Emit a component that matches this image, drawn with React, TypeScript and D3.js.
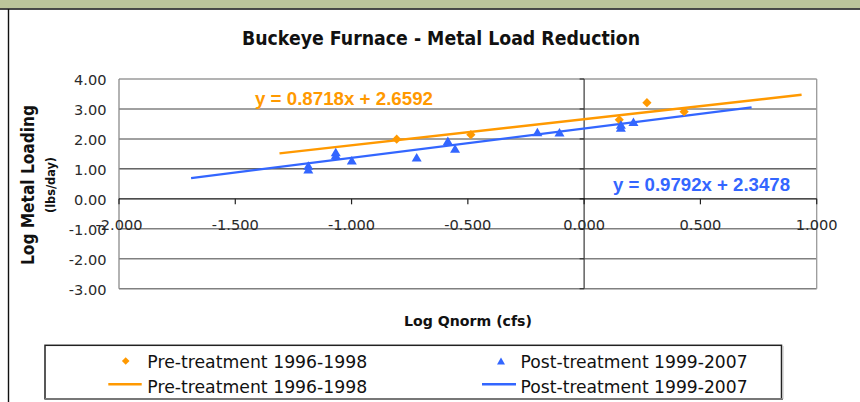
import React from 'react';
import * as d3 from 'd3';

// ---- data ----
const preX = [-0.806, -0.487, 0.151, 0.27, 0.43];
const preY = [1.99, 2.14, 2.64, 3.21, 2.91];
const postX = [-1.186, -1.186, -1.068, -1.068, -0.999, -0.72, -0.586, -0.555, -0.201, -0.106, 0.158, 0.158, 0.212];
const postY = [1.11, 0.99, 1.56, 1.46, 1.29, 1.39, 1.94, 1.68, 2.23, 2.22, 2.38, 2.48, 2.57];
const preCoef = [0.8718, 2.6592];
const postCoef = [0.9792, 2.3478];
const preTrendRange = [-1.31, 0.935];
const postTrendRange = [-1.69, 0.72];
const xTicks = [-2, -1.5, -1, -0.5, 0, 0.5, 1];
const yTicks = [-3, -2, -1, 0, 1, 2, 3, 4];
const preLabel = 'Pre-treatment 1996-1998';
const postLabel = 'Post-treatment 1999-2007';
const preEq = 'y = 0.8718x + 2.6592';
const postEq = 'y = 0.9792x + 2.3478';
const title = 'Buckeye Furnace - Metal Load Reduction';
const yTitle = 'Log Metal Loading';
const yUnit = '(lbs/day)';
const xTitle = 'Log Qnorm (cfs)';

const ORANGE = '#FF9900';
const BLUE = '#3366FF';

const diamond = (s: number) => `M0,${-s}L${s},0L0,${s}L${-s},0Z`;
const triangle = (w: number, h: number) => `M0,${-h / 2}L${w / 2},${h / 2}L${-w / 2},${h / 2}Z`;

const locale = d3.formatLocale({ decimal: '.', thousands: ',', grouping: [3], currency: ['$', ''], minus: '-' });

export default function App() {
  const x = d3.scaleLinear().domain([-2, 1]).range([119, 816.7]);
  const y = d3.scaleLinear().domain([-3, 4]).range([288.7, 79]);
  const fx = locale.format('.3f');
  const fy = locale.format('.2f');
  const line = d3.line<[number, number]>().x(d => x(d[0])).y(d => y(d[1]));
  const trend = (coef: number[], r: number[]) =>
    line(r.map(v => [v, coef[0] * v + coef[1]] as [number, number])) || '';

  const tickFont = 'DejaVu Sans, sans-serif';

  return (
    <svg width={860} height={402} style={{ position: 'absolute', left: 0, top: 0 }}>
      <rect x={0} y={0} width={860} height={402} fill="#fff" />
      {/* header band */}
      <rect x={0} y={0} width={860} height={8.3} fill="#BCC59A" />
      <line x1={0} x2={860} y1={9} y2={9} stroke="#111" strokeWidth={1.6} />
      <line x1={8.5} x2={8.5} y1={9} y2={402} stroke="#111" strokeWidth={1.4} />

      {/* title */}
      <text x={242} y={45} fontFamily={tickFont} fontWeight="bold" fontSize={19}
        textLength={398} lengthAdjust="spacingAndGlyphs" fill="#111">{title}</text>

      {/* gridlines */}
      {yTicks.filter(v => v !== 0).map(v => (
        <line key={'g' + v} x1={x(-2)} x2={x(1)} y1={y(v)} y2={y(v)}
          stroke={v === 1 ? '#111' : v === 4 ? '#9a9a9a' : '#808080'}
          strokeWidth={v === 1 ? 1 : 1.5} />
      ))}
      {/* plot borders */}
      <line x1={x(-2)} x2={x(-2)} y1={y(4)} y2={y(-3)} stroke="#8a8a8a" strokeWidth={1.3} />
      <line x1={x(1)} x2={x(1)} y1={y(4)} y2={y(-3)} stroke="#9a9a9a" strokeWidth={1.3} />
      {/* vertical axis at x=0 */}
      <line x1={x(0)} x2={x(0)} y1={y(4)} y2={y(-3)} stroke="#555" strokeWidth={1.4} />
      {yTicks.map(v => (
        <line key={'yt' + v} x1={x(0) - 4.5} x2={x(0)} y1={y(v)} y2={y(v)} stroke="#333" strokeWidth={1.2} />
      ))}
      {/* horizontal axis at y=0 */}
      <line x1={x(-2)} x2={x(1)} y1={y(0)} y2={y(0)} stroke="#111" strokeWidth={1.2} />
      {xTicks.map(v => (
        <line key={'xt' + v} x1={x(v)} x2={x(v)} y1={y(0)} y2={y(0) + 5.5} stroke="#222" strokeWidth={1.2} />
      ))}
      {/* tick labels */}
      {xTicks.map(v => (
        <text key={'xl' + v} x={x(v)} y={230} textAnchor="middle" fontFamily={tickFont}
          fontSize={14.6} fill="#2a2a2a">{fx(v)}</text>
      ))}
      {yTicks.map(v => (
        <text key={'yl' + v} x={106.5} y={y(v) + 6} textAnchor="end" fontFamily={tickFont}
          fontSize={14.6} fill="#2a2a2a">{fy(v)}</text>
      ))}

      {/* axis titles */}
      <text transform="translate(34,185) rotate(-90)" textAnchor="middle" fontFamily={tickFont}
        fontWeight="bold" fontSize={17} textLength={160} lengthAdjust="spacingAndGlyphs" fill="#111">{yTitle}</text>
      <text transform="translate(55,185) rotate(-90)" textAnchor="middle" fontFamily={tickFont}
        fontWeight="bold" fontSize={11.5} textLength={56} lengthAdjust="spacingAndGlyphs" fill="#111">{yUnit}</text>
      <text x={468} y={326} textAnchor="middle" fontFamily={tickFont} fontWeight="bold"
        fontSize={14.5} textLength={128} lengthAdjust="spacingAndGlyphs" fill="#111">{xTitle}</text>

      {/* trendlines */}
      <path d={trend(preCoef, preTrendRange)} stroke={ORANGE} strokeWidth={2.4} fill="none" />
      <path d={trend(postCoef, postTrendRange)} stroke={BLUE} strokeWidth={2.4} fill="none" />

      {/* points */}
      {preX.map((v, i) => (
        <path key={'p' + i} d={diamond(4.6)} transform={`translate(${x(v)},${y(preY[i])})`} fill={ORANGE} />
      ))}
      {postX.map((v, i) => (
        <path key={'q' + i} d={triangle(10, 8.5)} transform={`translate(${x(v)},${y(postY[i])})`} fill={BLUE} />
      ))}

      {/* equations */}
      <text x={255} y={105} fontFamily="Liberation Sans, Arial, sans-serif" fontWeight="bold" fontSize={18}
        textLength={178} lengthAdjust="spacingAndGlyphs" fill={ORANGE}>{preEq}</text>
      <text x={613} y={190.7} fontFamily="Liberation Sans, Arial, sans-serif" fontWeight="bold" fontSize={18}
        textLength={177} lengthAdjust="spacingAndGlyphs" fill={BLUE}>{postEq}</text>

      {/* legend */}
      <rect x={45} y={345.3} width={736.5} height={53.5} fill="#fff" stroke="#222" strokeWidth={1.5} />
      <line x1={45} x2={783} y1={399} y2={399} stroke="#777" strokeWidth={2} />
      <line x1={783} x2={783} y1={346} y2={399} stroke="#bbb" strokeWidth={1} />
      <path d={diamond(3.8)} transform="translate(125.7,361)" fill={ORANGE} />
      <text x={147.3} y={367.5} fontFamily={tickFont} fontSize={17} textLength={220}
        lengthAdjust="spacingAndGlyphs" fill="#111">{preLabel}</text>
      <line x1={108.3} x2={141.7} y1={384.3} y2={384.3} stroke={ORANGE} strokeWidth={2.4} />
      <text x={147.3} y={392.5} fontFamily={tickFont} fontSize={17} textLength={220}
        lengthAdjust="spacingAndGlyphs" fill="#111">{preLabel}</text>
      <path d={triangle(8, 7)} transform="translate(501,361)" fill={BLUE} />
      <text x={520.6} y={367.5} fontFamily={tickFont} fontSize={17} textLength={227}
        lengthAdjust="spacingAndGlyphs" fill="#111">{postLabel}</text>
      <line x1={482} x2={516} y1={384.3} y2={384.3} stroke={BLUE} strokeWidth={2.4} />
      <text x={520.6} y={392.5} fontFamily={tickFont} fontSize={17} textLength={227}
        lengthAdjust="spacingAndGlyphs" fill="#111">{postLabel}</text>
    </svg>
  );
}
